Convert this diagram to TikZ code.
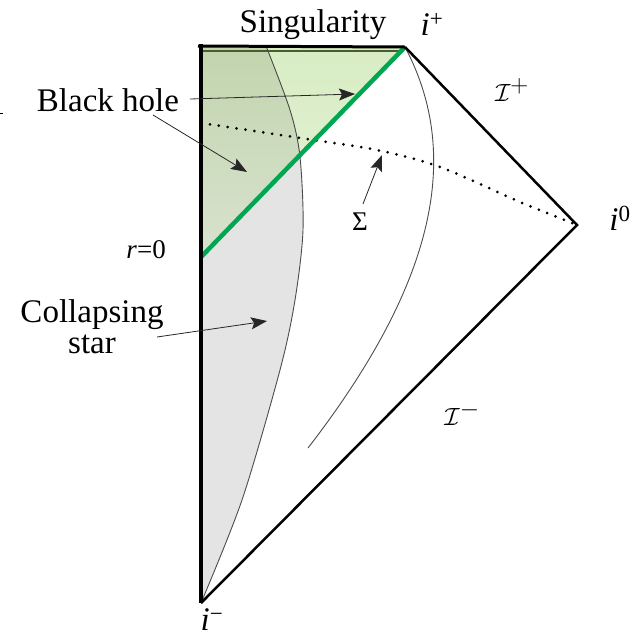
\documentclass[tikz,border=0pt]{standalone}
\usepackage{fontspec}
\IfFontExistsTF{LiberationSerif-Regular.ttf}{%
  \setmainfont{LiberationSerif}[Extension=.ttf, UprightFont=*-Regular, ItalicFont=*-Italic, BoldFont=*-Bold, BoldItalicFont=*-BoldItalic]}{%
  \setmainfont{Liberation Serif}}
\usetikzlibrary{arrows.meta}
\definecolor{bhgreen}{RGB}{0,166,81}
\definecolor{edgegreen}{RGB}{70,95,45}
\definecolor{stargray}{RGB}{228,228,228}
\definecolor{darkA}{RGB}{194,213,174}
\definecolor{darkB}{RGB}{216,226,206}
\definecolor{lightA}{RGB}{216,236,196}
\definecolor{lightB}{RGB}{228,244,214}
\tikzset{
  edge/.style={line width=2.5pt, line join=miter},
  thincurve/.style={line width=0.9pt, black!70},
  lbl/.style={font=\fontsize{33}{31}\selectfont, inner sep=0pt},
  smalllbl/.style={font=\fontsize{27}{30}\selectfont, inner sep=0pt},
  scrilbl/.style={font=\fontsize{40}{42}\selectfont, inner sep=0pt},
  ptr/.style={line width=0.8pt, black!85, -{Stealth[length=16pt,width=12pt,inset=3pt]}},
}
\begin{document}
\begin{tikzpicture}[x=1pt,y=-1pt]
\useasboundingbox (0,0) rectangle (640,638);
% key points
\coordinate (tl) at (201,46);
\coordinate (ip) at (405,47);
\coordinate (izero) at (577,225);
\coordinate (im) at (201,603);
\coordinate (rz) at (201,257);
\coordinate (sl) at (198,46);
% star below black hole
\begin{scope}
  \clip (rz) -- (ip) -- (640,47) -- (640,638) -- (201,638) -- cycle;
  \fill[stargray] plot[smooth] coordinates {(201,603) (242,500) (280,370) (295,300) (303,230) (300,157) (290,110) (266,46)} -- (tl) -- cycle;
\end{scope}
% black hole region
\fill[top color=lightA, bottom color=lightB] (tl) -- (ip) -- (rz) -- cycle;
\begin{scope}
  \clip (tl) -- (ip) -- (rz) -- cycle;
  \clip plot[smooth] coordinates {(201,603) (242,500) (280,370) (295,300) (303,230) (300,157) (290,110) (266,46)} -- (tl) -- cycle;
  \fill[top color=darkA, bottom color=darkB] (201,46) rectangle (310,257);
\end{scope}
\draw[edgegreen, line width=1.2pt] (202,51) -- (400,51);
% star surface
\draw[thincurve] plot[smooth] coordinates {(201,603) (242,500) (280,370) (295,300) (303,230) (300,157) (290,110) (266,46)};
% outer worldline
\draw[thincurve] (ip) .. controls (465,160) and (430,290) .. (308,448);
% Sigma surface
\draw[line width=3pt, line cap=round, dash pattern=on 0pt off 9pt] plot[smooth] coordinates {(201,123) (300,138) (377,150) (440,167) (520,202) (577,225)};
% horizon
\draw[bhgreen, line width=4.5pt] (rz) -- (ip);
% boundaries
\draw[edge] (ip) -- (izero) -- (im);
\draw[line width=3.5pt] (201,44) -- (im);
\draw[line width=3pt] (sl) -- (ip);
% labels
\node[lbl] (sing) at (313,25) {Singularity};
\node[lbl] (iplus) at (432,24) {\textit{i}\textsuperscript{+}};
\node[scrilbl] (scriplus) at (512,90) {$\mathcal{I}^{+}$};
\node[lbl] (izerol) at (620,218) {\textit{i}\textsuperscript{0}};
\node[scrilbl] (scriminus) at (462,414) {$\mathcal{I}^{-}$};
\node[lbl] (iminus) at (212,620) {\textit{i}\textsuperscript{−}};
\node[lbl] (bh) at (108,100) {Black hole};
\node[smalllbl, anchor=east] (rzl) at (166,250) {\textit{r}=0};
\node[lbl, align=center] (cs) at (92,327) {Collapsing\\star};
\node[smalllbl] (sig) at (360,222) {Σ};
% pointers
\coordinate (bhs1) at (190,99);
\coordinate (bht1) at (355,94);
\coordinate (bhs2) at (153,115);
\coordinate (bht2) at (247,172);
\coordinate (css) at (157,337);
\coordinate (cst) at (267,321);
\coordinate (sigs) at (363,204);
\coordinate (sigt) at (382,155);
\draw[ptr] (bhs1) -- (bht1);
\draw[ptr] (bhs2) -- (bht2);
\draw[ptr] (css) -- (cst);
\draw[ptr] (sigs) -- (sigt);
% stray mark at the left edge
\coordinate (m1) at (0,113);
\coordinate (m2) at (3,113);
\draw[line width=0.6pt] (m1) -- (m2);
\end{tikzpicture}
\end{document}
